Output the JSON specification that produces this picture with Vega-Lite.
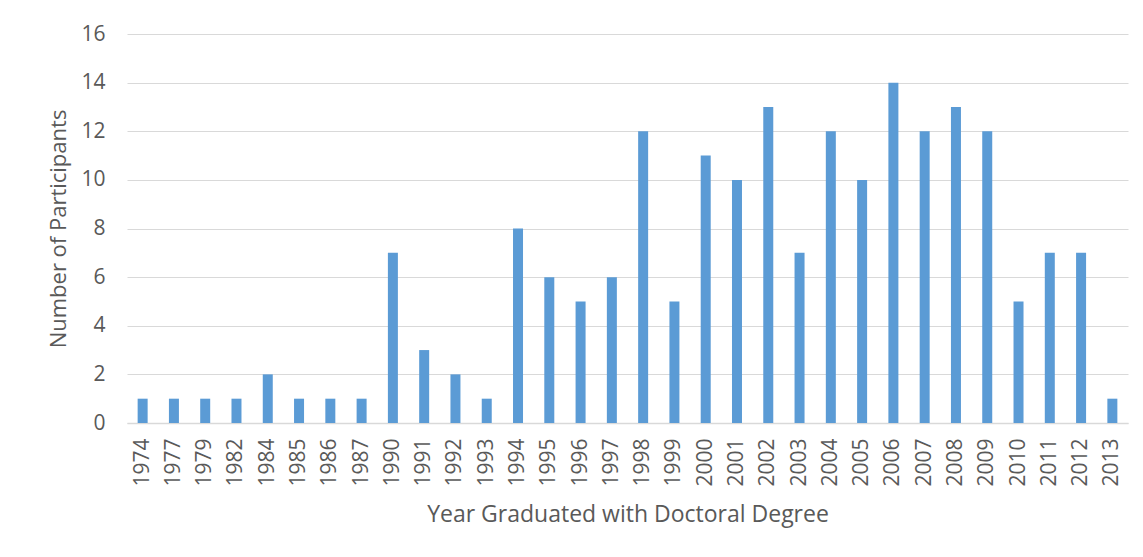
{
  "$schema": "https://vega.github.io/schema/vega-lite/v6.json",
  "width": 1001,
  "height": 389,
  "autosize": {"type": "none"},
  "padding": {"left": 127, "top": 34, "right": 15, "bottom": 134},
  "background": "white",
  "config": {
    "view": {"stroke": null},
    "font": "Open Sans",
    "axis": {"labelFont": "Open Sans", "titleFont": "Open Sans", "labelColor": "#595959", "titleColor": "#595959", "titleFontWeight": "normal"}
  },
  "data": {
    "values": [
      {"year": "1974", "count": 1}, {"year": "1977", "count": 1}, {"year": "1979", "count": 1},
      {"year": "1982", "count": 1}, {"year": "1984", "count": 2}, {"year": "1985", "count": 1},
      {"year": "1986", "count": 1}, {"year": "1987", "count": 1}, {"year": "1990", "count": 7},
      {"year": "1991", "count": 3}, {"year": "1992", "count": 2}, {"year": "1993", "count": 1},
      {"year": "1994", "count": 8}, {"year": "1995", "count": 6}, {"year": "1996", "count": 5},
      {"year": "1997", "count": 6}, {"year": "1998", "count": 12}, {"year": "1999", "count": 5},
      {"year": "2000", "count": 11}, {"year": "2001", "count": 10}, {"year": "2002", "count": 13},
      {"year": "2003", "count": 7}, {"year": "2004", "count": 12}, {"year": "2005", "count": 10},
      {"year": "2006", "count": 14}, {"year": "2007", "count": 12}, {"year": "2008", "count": 13},
      {"year": "2009", "count": 12}, {"year": "2010", "count": 5}, {"year": "2011", "count": 7},
      {"year": "2012", "count": 7}, {"year": "2013", "count": 1}
    ]
  },
  "mark": {"type": "bar", "color": "#5B9BD5", "width": 10},
  "encoding": {
    "x": {
      "field": "year", "type": "ordinal",
      "scale": {"paddingInner": 0, "paddingOuter": 0},
      "axis": {
        "title": "Year Graduated with Doctoral Degree",
        "labelAngle": -90, "labelFontSize": 21, "labelPadding": 15, "labelBaseline": "middle", "labelAlign": "right",
        "ticks": false, "domainColor": "#D9D9D9", "domainWidth": 1.5,
        "titleFontSize": 23, "titlePadding": 17
      }
    },
    "y": {
      "field": "count", "type": "quantitative",
      "scale": {"domain": [0, 16]},
      "axis": {
        "title": "Number of Participants",
        "values": [0, 2, 4, 6, 8, 10, 12, 14, 16],
        "labelFontSize": 21, "labelPadding": 22, "ticks": false, "domain": false,
        "gridColor": "#D9D9D9", "gridWidth": 1.2,
        "titleFontSize": 22, "titlePadding": 10
      }
    }
  }
}
